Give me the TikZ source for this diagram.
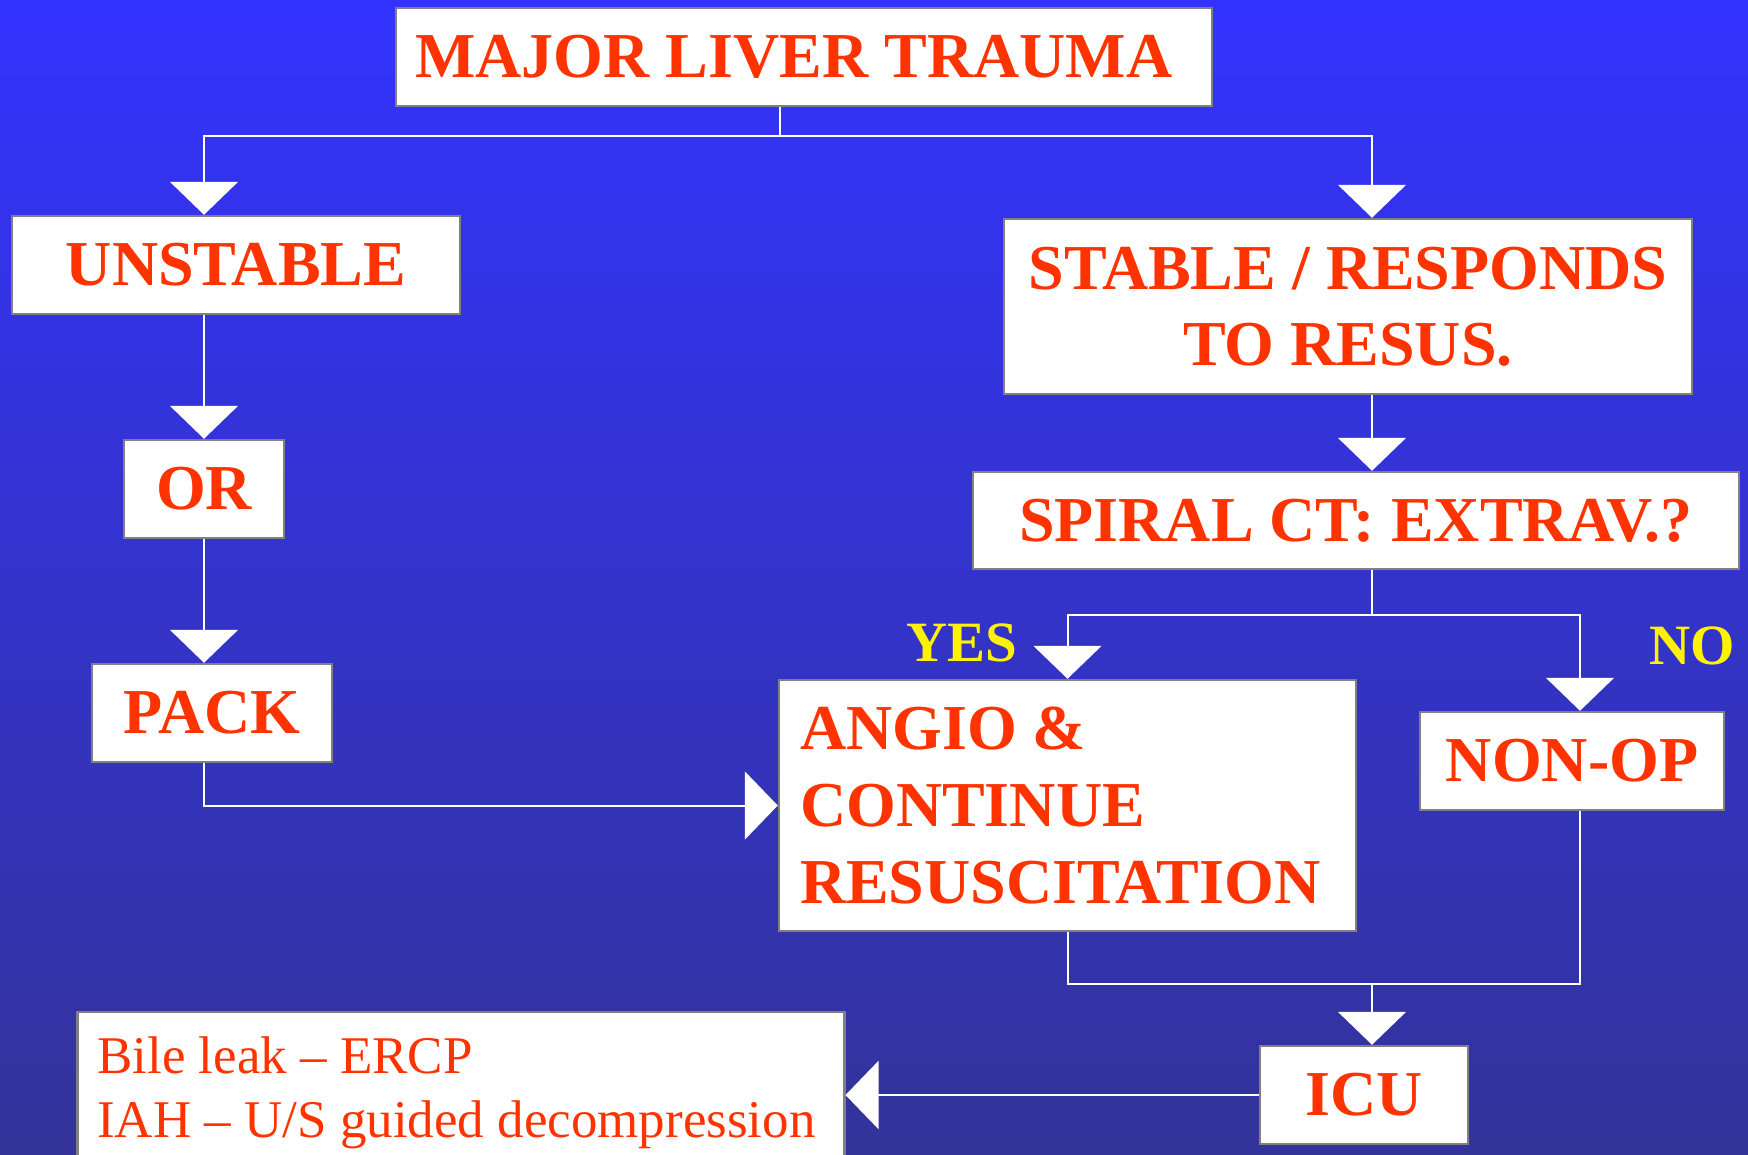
\documentclass[tikz,border=0pt]{standalone}
\usepackage{fontspec}
\setmainfont{Liberation Serif}
\usepackage{tikz}
\usetikzlibrary{arrows.meta,calc}
\definecolor{bgtop}{RGB}{51,51,255}
\definecolor{bgbottom}{RGB}{51,51,153}
\definecolor{liverred}{RGB}{255,51,0}
\definecolor{boxgray}{RGB}{128,128,128}

\begin{document}
\begin{tikzpicture}[x=1pt,y=-1pt,
  box/.style={draw=boxgray,line width=2.5pt,fill=white,text=liverred,inner sep=0pt,
    minimum height=98pt,font=\bfseries\fontsize{64}{76}\selectfont},
  note/.style={draw=boxgray,line width=2.5pt,fill=white,text=liverred,
    inner xsep=20pt,inner ysep=25pt,align=flush left,font=\fontsize{53}{64}\selectfont},
  link/.style={draw=white,line width=2pt},
  flow/.style={link,-{Triangle[width=68pt,length=33pt]}},
  answer/.style={text=yellow,inner sep=0pt,font=\bfseries\fontsize{57}{60}\selectfont}]
        \clip (0,0) rectangle (1748,1154);
        \shade[top color=bgtop,bottom color=bgbottom] (0,0) rectangle (1748,1154); % background
        % boxes
        \node[box,minimum width=816pt] (major) at (804,57) {MAJOR LIVER TRAUMA\rule{20pt}{0pt}};
        \node[box,minimum width=448pt] (unstable) at (236,265) {UNSTABLE};
        \node[box,minimum width=688pt,minimum height=175pt,align=center] (stable) at (1348,306.5)
          {STABLE / RESPONDS\\TO RESUS.};
        \node[box,minimum width=160pt] (or) at (204,489) {OR};
        \node[box,minimum width=766pt,minimum height=97pt] (spiral) at (1356,520.5) {SPIRAL CT: EXTRAV.?};
        \node[box,minimum width=240pt] (pack) at (212,713) {PACK};
        \node[box,text width=535pt,inner xsep=21pt,minimum height=251pt,align=flush left,
          font=\bfseries\fontsize{64}{77}\selectfont] (angio) at (1067.5,805.5)
          {ANGIO \&\\CONTINUE\\RESUSCITATION};
        \node[box,minimum width=304pt] (nonop) at (1572,761) {NON-OP};
        \node[box,minimum width=208pt] (icu) at (1364,1095) {ICU};
        \node[note,text width=727pt,anchor=north west] (bile) at (76,1010.5)
          {\mbox{Bile leak -- ERCP}\\\mbox{IAH -- U/S guided decompression}};
        \node[answer] (yes) at (962,643) {YES};
        \node[answer] (no) at (1692,646) {NO};
        % connectors
        \coordinate (topsplit) at (780,136);
        \draw[link] ([xshift=-24pt]major.south) -- (topsplit); % trunk
        \draw[flow] (topsplit) -| ([xshift=-32pt]unstable.north);
        \draw[flow] (topsplit) -| ([xshift=24pt]stable.north);
        \draw[flow] ([xshift=-32pt]unstable.south) -- (or.north);
        \draw[flow] (or.south) -- (or.south |- pack.north);
        \draw[flow] ([xshift=-8pt]pack.south) |- (angio.west);
        \draw[flow] ([xshift=24pt]stable.south) -- ([xshift=16pt]spiral.north);
        \coordinate (ctsplit) at (1372,615);
        \draw[link] ([xshift=16pt]spiral.south) -- (ctsplit); % yes / no split
        \draw[flow] (ctsplit) -| (angio.north);
        \draw[flow] (ctsplit) -| ([xshift=8pt]nonop.north);
        \coordinate (icumerge) at (1372,984);
        \draw[link] (angio.south) |- (icumerge);
        \draw[link] ([xshift=8pt]nonop.south) |- (icumerge);
        \draw[flow] (icumerge) -- ([xshift=8pt]icu.north);
        \draw[flow] (icu.west) -- (icu.west -| bile.east);
\end{tikzpicture}
\end{document}
